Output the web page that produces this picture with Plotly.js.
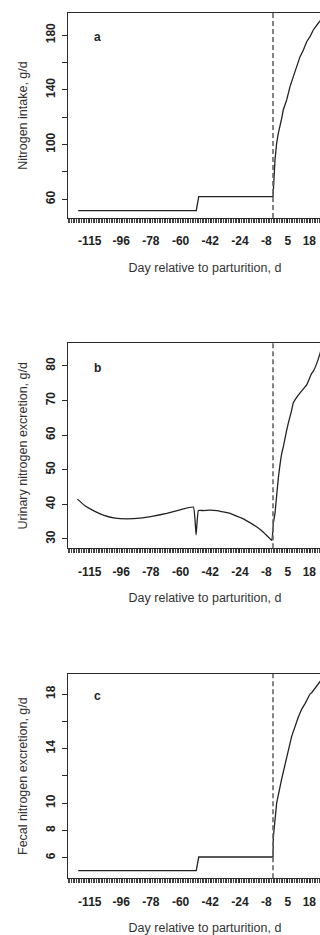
<!DOCTYPE html>
<html>
<head>
<meta charset="utf-8">
<script src="https://cdn.plot.ly/plotly-3.0.1.min.js"></script>
<style>
html,body{margin:0;padding:0;overflow:hidden;background:#fff;width:320px;height:935px;}
#chart{width:360px;height:935px;}
</style>
</head>
<body>
<div id="chart"></div>
<script>
// ---- Data ----
const parturitionDay = -4;

const xTickVals = [-115, -96, -78, -60, -42, -24, -8, 5, 18];
const xTickText = ['-115', '-96', '-78', '-60', '-42', '-24', '-8', '5', '18'];

// Panel a: Nitrogen intake
const dayA = [-122, -50.5, -49, -4, -3.8, -3.4, -2.8, -1.8, -0.8, 1.3, 2.2, 4.3, 6.3, 8.3, 10.4, 12.4, 14.4, 16.4, 18.4, 20.4, 23.4, 24, 25];
const intake = [51.7, 51.7, 61.9, 61.9, 66, 79, 88.7, 100.9, 108.2, 119.2, 125.2, 132.6, 142.3, 149.6, 156.9, 164.2, 169.1, 175.1, 178.8, 183.7, 188.6, 189.7, 191];
const yTicksA = [60, 80, 100, 120, 140, 160, 180];
const yLabelsA = ['60', '', '100', '', '140', '', '180'];

// Panel b: Urinary nitrogen excretion
const dayB = [-122.5, -117.9, -112.8, -106.8, -99.7, -92.6, -84.6, -76.5, -68.4, -60.3, -52.2, -50.6, -49.2, -46, -42, -38, -34, -30, -26, -22, -18, -14, -10, -7.8, -4.7, -3.8, -2.8, -0.8, 1.3, 2.2, 4.3, 5.3, 7.3, 8.3, 11.3, 12.4, 15.4, 16.4, 19.4, 20.4, 22.5, 24.5, 25];
const urinary = [41.5, 39.6, 38.2, 36.9, 36.0, 35.8, 36.0, 36.6, 37.4, 38.4, 39.2, 31.2, 38.2, 38.2, 38.3, 38.2, 37.8, 37.4, 36.6, 35.8, 34.7, 33.5, 32.0, 31.0, 29.6, 34.5, 37.4, 47.5, 54.7, 56.5, 61.4, 63.5, 67.2, 69.3, 71.5, 72.2, 73.9, 74.5, 77.8, 78.4, 80.7, 83.6, 84.5];
const yTicksB = [30, 40, 50, 60, 70, 80];
const yLabelsB = ['30', '40', '50', '60', '70', '80'];

// Panel c: Fecal nitrogen excretion
const dayC = [-122, -50.5, -49, -4, -3.8, -1.8, 1.3, 4.3, 7.3, 11.3, 13.4, 15.4, 18.4, 19.4, 23.4, 24, 25];
const fecal = [5.05, 5.05, 6.05, 6.05, 7.5, 10.0, 11.8, 13.4, 14.9, 16.3, 16.9, 17.3, 18.0, 18.1, 18.8, 18.9, 19.0];
const yTicksC = [6, 8, 10, 12, 14, 16, 18];
const yLabelsC = ['6', '8', '10', '', '14', '', '18'];

const panelLetters = ['a', 'b', 'c'];
const yTitles = ['Nitrogen intake, g/d', 'Urinary nitrogen excretion, g/d', 'Fecal nitrogen excretion, g/d'];
const xTitle = 'Day relative to parturition, d';

// ---- Styling / layout ----
const H = 935, W = 360;
const plotLeft = 68, plotRight = 342;
const panels = [
  {top: 13, bottom: 218, yr: [46.3, 196.1], tv: yTicksA, tt: yLabelsA, letterY: 0.883, shape: 'linear'},
  {top: 343.3, bottom: 548.3, yr: [27.3, 86.5], tv: yTicksB, tt: yLabelsB, letterY: 0.878, shape: 'spline'},
  {top: 674, bottom: 878.3, yr: [4.49, 19.47], tv: yTicksC, tt: yLabelsC, letterY: 0.893, shape: 'linear'}
];
const xs = [dayA, dayB, dayC];
const ys = [intake, urinary, fecal];
const fontFam = '"Liberation Sans", Arial, Helvetica, sans-serif';
const lineCol = '#2b2b2b';

const data = [];
const layout = {
  width: W, height: H,
  margin: {l: 0, r: 0, t: 0, b: 0},
  paper_bgcolor: '#fff', plot_bgcolor: '#fff',
  showlegend: false,
  font: {family: fontFam, color: '#222'},
  shapes: [], annotations: []
};

panels.forEach((p, i) => {
  const n = i === 0 ? '' : String(i + 1);
  const ln = {color: '#222', width: 1.3, shape: p.shape};
  if (p.shape === 'spline') ln.smoothing = 0.3;
  data.push({
    x: xs[i], y: ys[i], type: 'scatter', mode: 'lines',
    xaxis: 'x' + n, yaxis: 'y' + n,
    line: ln, hoverinfo: 'skip'
  });
  layout['xaxis' + n] = {
    domain: [plotLeft / W, plotRight / W],
    anchor: 'y' + n,
    range: [-128.2, 37.8],
    showgrid: false, zeroline: false,
    showline: true, mirror: true, linecolor: lineCol, linewidth: 1,
    tickmode: 'array', tickvals: xTickVals, ticktext: xTickText,
    ticks: 'outside', ticklen: 4, tickwidth: 1, tickcolor: lineCol,
    minor: {dtick: 1, tick0: 0, ticklen: 4, tickwidth: 1, tickcolor: '#444', ticks: 'outside', showgrid: false},
    tickfont: {family: fontFam, size: 12, color: '#222', weight: 'bold'},
    ticklabelstandoff: 8,
    title: {text: xTitle, font: {family: fontFam, size: 12.5, color: '#333'}, standoff: 15}
  };
  layout['yaxis' + n] = {
    domain: [1 - p.bottom / H, 1 - p.top / H],
    anchor: 'x' + n,
    range: p.yr,
    showgrid: false, zeroline: false,
    showline: true, mirror: true, linecolor: lineCol, linewidth: 1,
    tickmode: 'array', tickvals: p.tv, ticktext: p.tt,
    ticks: 'outside', ticklen: 5, tickwidth: 1, tickcolor: lineCol,
    tickangle: -90,
    tickfont: {family: fontFam, size: 12, color: '#222', weight: 'bold'},
    ticklabelstandoff: 2,
    title: {text: yTitles[i], font: {family: fontFam, size: 12.5, color: '#333'}, standoff: 13}
  };
  layout.shapes.push({
    type: 'line', xref: 'x' + n, yref: 'y' + n + ' domain',
    x0: parturitionDay, x1: parturitionDay, y0: 0, y1: 1,
    line: {color: '#666', width: 1.6, dash: '5px,3px'}
  });
  layout.annotations.push({
    text: panelLetters[i], xref: 'x' + n + ' domain', yref: 'y' + n + ' domain',
    x: 0.106, y: p.letterY, showarrow: false, xanchor: 'center', yanchor: 'middle',
    font: {family: fontFam, size: 12, color: '#222', weight: 'bold'}
  });
});

Plotly.newPlot('chart', data, layout, {staticPlot: true, displayModeBar: false});
</script>
</body>
</html>
